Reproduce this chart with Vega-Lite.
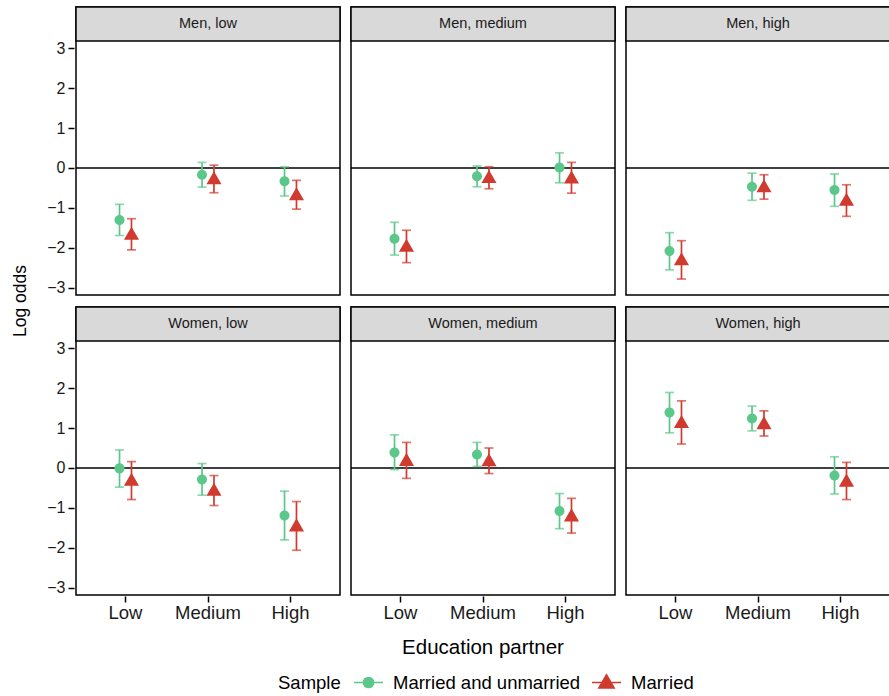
{
  "$schema": "https://vega.github.io/schema/vega-lite/v6.json",
  "padding": {"left": 11, "top": 5, "right": 0, "bottom": 0},
  "background": "white",
  "data": {
    "values": [
      {"gender": "Men", "own": "low", "panel": "Men, low", "edu": "Low", "sample": "Married and unmarried", "est": -1.30, "lo": -1.69, "hi": -0.91},
      {"gender": "Men", "own": "low", "panel": "Men, low", "edu": "Low", "sample": "Married", "est": -1.66, "lo": -2.05, "hi": -1.27},
      {"gender": "Men", "own": "low", "panel": "Men, low", "edu": "Medium", "sample": "Married and unmarried", "est": -0.17, "lo": -0.48, "hi": 0.14},
      {"gender": "Men", "own": "low", "panel": "Men, low", "edu": "Medium", "sample": "Married", "est": -0.27, "lo": -0.62, "hi": 0.07},
      {"gender": "Men", "own": "low", "panel": "Men, low", "edu": "High", "sample": "Married and unmarried", "est": -0.33, "lo": -0.70, "hi": 0.03},
      {"gender": "Men", "own": "low", "panel": "Men, low", "edu": "High", "sample": "Married", "est": -0.67, "lo": -1.03, "hi": -0.31},

      {"gender": "Men", "own": "medium", "panel": "Men, medium", "edu": "Low", "sample": "Married and unmarried", "est": -1.77, "lo": -2.18, "hi": -1.36},
      {"gender": "Men", "own": "medium", "panel": "Men, medium", "edu": "Low", "sample": "Married", "est": -1.96, "lo": -2.37, "hi": -1.56},
      {"gender": "Men", "own": "medium", "panel": "Men, medium", "edu": "Medium", "sample": "Married and unmarried", "est": -0.21, "lo": -0.47, "hi": 0.05},
      {"gender": "Men", "own": "medium", "panel": "Men, medium", "edu": "Medium", "sample": "Married", "est": -0.24, "lo": -0.52, "hi": 0.03},
      {"gender": "Men", "own": "medium", "panel": "Men, medium", "edu": "High", "sample": "Married and unmarried", "est": 0.01, "lo": -0.37, "hi": 0.38},
      {"gender": "Men", "own": "medium", "panel": "Men, medium", "edu": "High", "sample": "Married", "est": -0.25, "lo": -0.63, "hi": 0.14},

      {"gender": "Men", "own": "high", "panel": "Men, high", "edu": "Low", "sample": "Married and unmarried", "est": -2.08, "lo": -2.55, "hi": -1.62},
      {"gender": "Men", "own": "high", "panel": "Men, high", "edu": "Low", "sample": "Married", "est": -2.30, "lo": -2.78, "hi": -1.82},
      {"gender": "Men", "own": "high", "panel": "Men, high", "edu": "Medium", "sample": "Married and unmarried", "est": -0.47, "lo": -0.81, "hi": -0.13},
      {"gender": "Men", "own": "high", "panel": "Men, high", "edu": "Medium", "sample": "Married", "est": -0.47, "lo": -0.78, "hi": -0.17},
      {"gender": "Men", "own": "high", "panel": "Men, high", "edu": "High", "sample": "Married and unmarried", "est": -0.55, "lo": -0.96, "hi": -0.15},
      {"gender": "Men", "own": "high", "panel": "Men, high", "edu": "High", "sample": "Married", "est": -0.81, "lo": -1.21, "hi": -0.42},

      {"gender": "Women", "own": "low", "panel": "Women, low", "edu": "Low", "sample": "Married and unmarried", "est": -0.01, "lo": -0.48, "hi": 0.45},
      {"gender": "Women", "own": "low", "panel": "Women, low", "edu": "Low", "sample": "Married", "est": -0.31, "lo": -0.79, "hi": 0.16},
      {"gender": "Women", "own": "low", "panel": "Women, low", "edu": "Medium", "sample": "Married and unmarried", "est": -0.29, "lo": -0.68, "hi": 0.11},
      {"gender": "Women", "own": "low", "panel": "Women, low", "edu": "Medium", "sample": "Married", "est": -0.56, "lo": -0.94, "hi": -0.19},
      {"gender": "Women", "own": "low", "panel": "Women, low", "edu": "High", "sample": "Married and unmarried", "est": -1.19, "lo": -1.80, "hi": -0.58},
      {"gender": "Women", "own": "low", "panel": "Women, low", "edu": "High", "sample": "Married", "est": -1.45, "lo": -2.06, "hi": -0.84},

      {"gender": "Women", "own": "medium", "panel": "Women, medium", "edu": "Low", "sample": "Married and unmarried", "est": 0.39, "lo": -0.04, "hi": 0.83},
      {"gender": "Women", "own": "medium", "panel": "Women, medium", "edu": "Low", "sample": "Married", "est": 0.19, "lo": -0.26, "hi": 0.64},
      {"gender": "Women", "own": "medium", "panel": "Women, medium", "edu": "Medium", "sample": "Married and unmarried", "est": 0.34, "lo": 0.04, "hi": 0.64},
      {"gender": "Women", "own": "medium", "panel": "Women, medium", "edu": "Medium", "sample": "Married", "est": 0.18, "lo": -0.14, "hi": 0.50},
      {"gender": "Women", "own": "medium", "panel": "Women, medium", "edu": "High", "sample": "Married and unmarried", "est": -1.08, "lo": -1.52, "hi": -0.64},
      {"gender": "Women", "own": "medium", "panel": "Women, medium", "edu": "High", "sample": "Married", "est": -1.20, "lo": -1.63, "hi": -0.76},

      {"gender": "Women", "own": "high", "panel": "Women, high", "edu": "Low", "sample": "Married and unmarried", "est": 1.39, "lo": 0.88, "hi": 1.89},
      {"gender": "Women", "own": "high", "panel": "Women, high", "edu": "Low", "sample": "Married", "est": 1.14, "lo": 0.60, "hi": 1.68},
      {"gender": "Women", "own": "high", "panel": "Women, high", "edu": "Medium", "sample": "Married and unmarried", "est": 1.24, "lo": 0.93, "hi": 1.55},
      {"gender": "Women", "own": "high", "panel": "Women, high", "edu": "Medium", "sample": "Married", "est": 1.11, "lo": 0.80, "hi": 1.43},
      {"gender": "Women", "own": "high", "panel": "Women, high", "edu": "High", "sample": "Married and unmarried", "est": -0.19, "lo": -0.65, "hi": 0.28},
      {"gender": "Women", "own": "high", "panel": "Women, high", "edu": "High", "sample": "Married", "est": -0.33, "lo": -0.79, "hi": 0.14}
    ]
  },
  "facet": {
    "row": {
      "field": "gender", "type": "nominal", "sort": ["Men", "Women"],
      "header": {"labels": false, "labelPadding": 0, "title": "Log odds", "titleOrient": "left", "titleAngle": -90, "titleFontSize": 17.5, "titleFontWeight": "normal", "titlePadding": -11, "titleColor": "black", "titleFont": "Liberation Sans"}
    },
    "column": {
      "field": "own", "type": "nominal", "sort": ["low", "medium", "high"],
      "header": {"labels": false, "labelPadding": 0, "title": "Education partner", "titleOrient": "bottom", "titleFontSize": 20.5, "titleFontWeight": "normal", "titlePadding": 6, "titleColor": "black", "titleFont": "Liberation Sans"}
    }
  },
  "spacing": {"row": 9, "column": 7},
  "spec": {
    "width": 264,
    "height": 288,
    "encoding": {
      "x": {
        "field": "edu", "type": "nominal", "sort": ["Low", "Medium", "High"],
        "scale": {"paddingInner": 0.71, "paddingOuter": 0.455},
        "axis": {"title": null, "labelAngle": 0}
      },
      "y": {
        "type": "quantitative",
        "scale": {"domain": [-3.18, 4.03], "nice": false, "zero": false},
        "axis": {"title": null, "values": [-3, -2, -1, 0, 1, 2, 3]}
      }
    },
    "layer": [
      {
        "transform": [{"filter": "datum.edu == 'Low' && datum.sample == 'Married'"}],
        "mark": {"type": "rect", "fill": "#d9d9d9", "stroke": "black", "strokeWidth": 1.5},
        "encoding": {"x": null, "y": {"datum": 3.18}, "y2": {"datum": 4.03}}
      },
      {
        "transform": [{"filter": "datum.edu == 'Low' && datum.sample == 'Married'"}],
        "mark": {"type": "text", "fontSize": 14.5, "baseline": "middle", "align": "center", "color": "#1a1a1a", "font": "Liberation Sans"},
        "encoding": {"x": null, "y": {"datum": 3.605}, "text": {"field": "panel"}}
      },
      {
        "transform": [{"filter": "datum.edu == 'Low' && datum.sample == 'Married'"}],
        "mark": {"type": "rule", "color": "black", "strokeWidth": 1.6},
        "encoding": {"x": null, "y": {"datum": 0}}
      },
      {
        "mark": {"type": "rule", "strokeWidth": 1.7},
        "encoding": {
          "xOffset": {"field": "sample", "sort": ["Married and unmarried", "Married"]},
          "y": {"field": "lo"},
          "y2": {"field": "hi"},
          "color": {"field": "sample", "type": "nominal"}
        }
      },
      {
        "mark": {"type": "tick", "orient": "horizontal", "size": 9, "thickness": 1.7},
        "encoding": {
          "xOffset": {"field": "sample", "sort": ["Married and unmarried", "Married"]},
          "y": {"field": "lo"},
          "color": {"field": "sample", "type": "nominal"}
        }
      },
      {
        "mark": {"type": "tick", "orient": "horizontal", "size": 9, "thickness": 1.7},
        "encoding": {
          "xOffset": {"field": "sample", "sort": ["Married and unmarried", "Married"]},
          "y": {"field": "hi"},
          "color": {"field": "sample", "type": "nominal"}
        }
      },
      {
        "mark": {"type": "point", "filled": true, "opacity": 1, "size": 841},
        "encoding": {
          "xOffset": {"field": "sample", "sort": ["Married and unmarried", "Married"]},
          "y": {"field": "est"},
          "color": {
            "field": "sample", "type": "nominal",
            "scale": {"domain": ["Married and unmarried", "Married"], "range": ["#5cc78a", "#d03a2f"]},
            "legend": {
              "title": "Sample",
              "orient": "none",
              "legendX": 202,
              "legendY": 660,
              "direction": "horizontal",
              "titleOrient": "left",
              "titleAnchor": "middle",
              "titleBaseline": "middle",
              "titlePadding": 12,
              "symbolSize": 841,
              "symbolOpacity": 1,
              "symbolStrokeWidth": 1.7,
              "labelOffset": 9,
              "columnPadding": 7,
              "labelLimit": 0,
              "encode": {
                "symbols": {"update": {"stroke": {"scale": "color", "field": "value"}}},
                "title": {"update": {"dy": {"value": 3}}}
              }
            }
          },
          "shape": {
            "field": "sample", "type": "nominal",
            "scale": {
              "domain": ["Married and unmarried", "Married"],
              "range": [
                "M-1,0L1,0M0.345,0A0.345,0.345,0,1,1,-0.345,0A0.345,0.345,0,1,1,0.345,0Z",
                "M-1,0L1,0M0,-0.52L0.52,0.38L-0.52,0.38Z"
              ]
            }
          }
        }
      }
    ]
  },
  "config": {
    "font": "Liberation Sans",
    "view": {"stroke": "black", "strokeWidth": 1.5},
    "axis": {
      "grid": false,
      "domain": false,
      "tickColor": "black",
      "tickWidth": 1.5,
      "tickSize": 6,
      "labelColor": "#1a1a1a",
      "titleColor": "black",
      "titleFontWeight": "normal",
      "labelFont": "Liberation Sans",
      "titleFont": "Liberation Sans"
    },
    "axisX": {"labelFontSize": 18.5, "labelPadding": 1},
    "axisY": {"labelFontSize": 16, "labelPadding": 3},
    "legend": {
      "labelFontSize": 18.5,
      "titleFontSize": 18.5,
      "titleFontWeight": "normal",
      "labelColor": "black",
      "titleColor": "black",
      "labelFont": "Liberation Sans",
      "titleFont": "Liberation Sans"
    }
  }
}
